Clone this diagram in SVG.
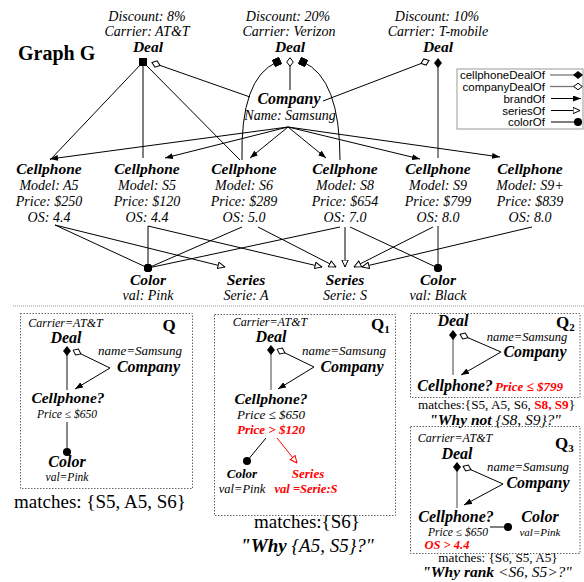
<svg xmlns="http://www.w3.org/2000/svg" width="584" height="582" viewBox="0 0 584 582">
<style>
text{font-family:"Liberation Serif","Times New Roman",serif;fill:#000}
.c{text-anchor:middle}
.at{font-style:italic;font-size:14px}
.nm{font-style:italic;font-weight:bold;font-size:15.5px}
.qa{font-style:italic;font-size:12px}
.qn{font-style:italic;font-weight:bold;font-size:16px}
.red{fill:#f00}
.lg{font-family:"Liberation Sans",Arial,sans-serif;font-size:11.5px;text-anchor:end}
.ln{stroke:#000;stroke-width:1;fill:none}
.gr{stroke:#888;stroke-width:2;fill:none}
.rl{stroke:#f00;stroke-width:1;fill:none}
.box{fill:none;stroke:#666;stroke-width:1;stroke-dasharray:1.5 1.5}
</style>
<defs>
<marker id="dF" markerUnits="userSpaceOnUse" viewBox="0 0 10 8" markerWidth="10" markerHeight="8" refX="5" refY="4" orient="auto"><path d="M0,4 L5,0 L10,4 L5,8 z" fill="#000"/></marker>
<marker id="dO" markerUnits="userSpaceOnUse" viewBox="0 0 10 8" markerWidth="10" markerHeight="8" refX="5" refY="4" orient="auto"><path d="M0.7,4 L5,0.7 L9.3,4 L5,7.3 z" fill="#fff" stroke="#000" stroke-width="1"/></marker>
<marker id="sq0" markerUnits="userSpaceOnUse" viewBox="0 0 8 8" markerWidth="8" markerHeight="8" refX="4" refY="4" orient="0"><rect x="0" y="0" width="8" height="8" fill="#000"/></marker>
<marker id="sqA" markerUnits="userSpaceOnUse" viewBox="0 0 8 8" markerWidth="8" markerHeight="8" refX="4" refY="4" orient="auto"><rect x="0" y="0" width="8" height="8" fill="#000"/></marker>
<marker id="aF" markerUnits="userSpaceOnUse" viewBox="0 0 8 6" markerWidth="8" markerHeight="6" refX="8" refY="3" orient="auto"><path d="M0,0 L8,3 L0,6 z" fill="#000"/></marker>
<marker id="tO" markerUnits="userSpaceOnUse" viewBox="0 0 8 8" markerWidth="8" markerHeight="8" refX="7.5" refY="4" orient="auto"><path d="M0.5,0.8 L7.5,4 L0.5,7.2 z" fill="#fff" stroke="#000" stroke-width="1"/></marker>
<marker id="tR" markerUnits="userSpaceOnUse" viewBox="0 0 8 8" markerWidth="8" markerHeight="8" refX="7.5" refY="4" orient="auto"><path d="M0.5,0.8 L7.5,4 L0.5,7.2 z" fill="#fff" stroke="#f00" stroke-width="1"/></marker>
<marker id="dot" markerUnits="userSpaceOnUse" viewBox="0 0 9 9" markerWidth="9" markerHeight="9" refX="4.5" refY="4.5" orient="0"><circle cx="4.5" cy="4.5" r="4" fill="#000"/></marker>
</defs>

<text x="18" y="60" style="font-weight:bold;font-size:20px">Graph G</text>

<g id="connectors">
  <line class="ln" x1="143" y1="62" x2="50" y2="160" marker-start="url(#sq0)"/>
  <line class="ln" x1="143" y1="62" x2="143" y2="158" marker-start="url(#sq0)"/>
  <line class="ln" x1="143" y1="62" x2="240" y2="160" marker-start="url(#sq0)"/>
  <line class="ln" x1="156" y1="64" x2="250" y2="97" marker-start="url(#dO)"/>
  <path class="ln" d="M277,62 Q240,78 242,160" marker-start="url(#sqA)"/>
  <path class="ln" d="M303,62 Q340,78 340,160" marker-start="url(#sqA)"/>
  <line class="ln" x1="290" y1="62" x2="290" y2="90" marker-start="url(#dO)"/>
  <line class="ln" x1="425" y1="62" x2="323" y2="101" marker-start="url(#dO)"/>
  <line class="gr" x1="438" y1="63" x2="438" y2="158" marker-start="url(#dF)"/>
  <line class="ln" x1="288" y1="127" x2="50" y2="159" marker-end="url(#aF)"/>
  <line class="ln" x1="288" y1="127" x2="165" y2="158" marker-end="url(#aF)"/>
  <line class="ln" x1="288" y1="127" x2="250" y2="158" marker-end="url(#aF)"/>
  <line class="ln" x1="288" y1="127" x2="326" y2="158" marker-end="url(#aF)"/>
  <line class="ln" x1="288" y1="127" x2="420" y2="159" marker-end="url(#aF)"/>
  <line class="ln" x1="288" y1="127" x2="500" y2="157" marker-end="url(#aF)"/>
  <line class="ln" x1="55" y1="225" x2="148" y2="268" marker-end="url(#dot)"/>
  <line class="ln" x1="55" y1="225" x2="225" y2="267" marker-end="url(#tO)"/>
  <line class="ln" x1="148" y1="226" x2="148" y2="268" marker-end="url(#dot)"/>
  <line class="ln" x1="148" y1="226" x2="322" y2="267" marker-end="url(#tO)"/>
  <line class="ln" x1="242" y1="227" x2="148" y2="268" marker-end="url(#dot)"/>
  <line class="ln" x1="258" y1="227" x2="336" y2="267" marker-end="url(#tO)"/>
  <line class="ln" x1="340" y1="227" x2="148" y2="268" marker-end="url(#dot)"/>
  <line class="ln" x1="345" y1="227" x2="345" y2="267" marker-end="url(#tO)"/>
  <line class="ln" x1="350" y1="227" x2="438" y2="268" marker-end="url(#dot)"/>
  <line class="gr" x1="438" y1="226" x2="438" y2="268" marker-end="url(#dot)"/>
  <line class="ln" x1="433" y1="227" x2="354" y2="267" marker-end="url(#tO)"/>
  <line class="ln" x1="532" y1="227" x2="362" y2="267" marker-end="url(#tO)"/>
</g>

<g id="deal1">
  <text class="at c" x="147" y="21">Discount: 8%</text>
  <text class="at c" x="147" y="36">Carrier: AT&amp;T</text>
  <text class="nm c" x="148" y="52">Deal</text>
</g>
<g id="deal2">
  <text class="at c" x="288" y="21">Discount: 20%</text>
  <text class="at c" x="289" y="36">Carrier: Verizon</text>
  <text class="nm c" x="290" y="52">Deal</text>
</g>
<g id="deal3">
  <text class="at c" x="437" y="21">Discount: 10%</text>
  <text class="at c" x="438" y="36">Carrier: T-mobile</text>
  <text class="nm c" x="438" y="52">Deal</text>
</g>
<g id="company">
  <text class="nm c" x="289" y="104" style="font-size:16px">Company</text>
  <text class="at c" x="290" y="120">Name: Samsung</text>
</g>

<g id="legend">
  <rect x="457" y="69" width="126" height="60" fill="#fff" stroke="#999" stroke-width="1"/>
  <text class="lg" x="545" y="79">cellphoneDealOf</text>
  <text class="lg" x="545" y="90.5">companyDealOf</text>
  <text class="lg" x="545" y="102.5">brandOf</text>
  <text class="lg" x="545" y="114.5">seriesOf</text>
  <text class="lg" x="545" y="126">colorOf</text>
  <line x1="550" y1="75" x2="578" y2="75" stroke="#777" stroke-width="1.3" marker-end="url(#dF)"/>
  <line x1="550" y1="86.5" x2="578" y2="86.5" stroke="#777" stroke-width="1.3" marker-end="url(#dO)"/>
  <line x1="551" y1="98.5" x2="581" y2="98.5" stroke="#000" stroke-width="1" marker-end="url(#aF)"/>
  <line x1="551" y1="110.5" x2="580" y2="110.5" stroke="#000" stroke-width="1" marker-end="url(#tO)"/>
  <line x1="551" y1="122" x2="578" y2="122" stroke="#000" stroke-width="1" marker-end="url(#dot)"/>
</g>

<g id="cell-a5">
  <text class="nm c" x="49" y="174">Cellphone</text>
  <text class="at c" x="49" y="190">Model: A5</text>
  <text class="at c" x="49" y="206">Price: $250</text>
  <text class="at c" x="49" y="222">OS: 4.4</text>
</g>
<g id="cell-s5">
  <text class="nm c" x="147" y="174">Cellphone</text>
  <text class="at c" x="147" y="190">Model: S5</text>
  <text class="at c" x="147" y="206">Price: $120</text>
  <text class="at c" x="147" y="222">OS: 4.4</text>
</g>
<g id="cell-s6">
  <text class="nm c" x="244" y="174">Cellphone</text>
  <text class="at c" x="244" y="190">Model: S6</text>
  <text class="at c" x="244" y="206">Price: $289</text>
  <text class="at c" x="244" y="222">OS: 5.0</text>
</g>
<g id="cell-s8">
  <text class="nm c" x="345" y="174">Cellphone</text>
  <text class="at c" x="345" y="190">Model: S8</text>
  <text class="at c" x="345" y="206">Price: $654</text>
  <text class="at c" x="345" y="222">OS: 7.0</text>
</g>
<g id="cell-s9">
  <text class="nm c" x="438" y="174">Cellphone</text>
  <text class="at c" x="438" y="190">Model: S9</text>
  <text class="at c" x="438" y="206">Price: $799</text>
  <text class="at c" x="438" y="222">OS: 8.0</text>
</g>
<g id="cell-s9plus">
  <text class="nm c" x="530" y="174">Cellphone</text>
  <text class="at c" x="530" y="190">Model: S9+</text>
  <text class="at c" x="530" y="206">Price: $839</text>
  <text class="at c" x="530" y="222">OS: 8.0</text>
</g>
<g id="color-pink">
  <text class="nm c" x="148" y="285">Color</text>
  <text class="at c" x="148" y="300">val: Pink</text>
</g>
<g id="series-a">
  <text class="nm c" x="246" y="285">Series</text>
  <text class="at c" x="246" y="300">Serie: A</text>
</g>
<g id="series-s">
  <text class="nm c" x="345" y="285">Series</text>
  <text class="at c" x="345" y="300">Serie: S</text>
</g>
<g id="color-black">
  <text class="nm c" x="438" y="285">Color</text>
  <text class="at c" x="438" y="300">val: Black</text>
</g>

<line x1="13" y1="306" x2="584" y2="306" stroke="#999" stroke-width="1" stroke-dasharray="1 1"/>

<g id="q">
  <rect class="box" x="20.5" y="313.5" width="172" height="175"/>
  <text x="169" y="331" class="c" style="font-weight:bold;font-size:17px">Q</text>
  <text class="qa c" x="65.5" y="327">Carrier=AT&amp;T</text>
  <text class="qn c" x="66" y="343">Deal</text>
  <text class="qa c" x="140" y="355" style="font-size:13px">name=Samsung</text>
  <text class="qn c" x="148.5" y="372">Company</text>
  <text class="qn c" x="68" y="403" style="font-size:15.5px">Cellphone?</text>
  <text class="qa c" x="67" y="418" style="font-size:11.5px">Price ≤ $650</text>
  <text class="qn c" x="67" y="467">Color</text>
  <text class="qa c" x="67" y="481" style="font-size:11.5px">val=Pink</text>
  <line class="gr" x1="67" y1="351" x2="67" y2="390" marker-start="url(#dF)"/>
  <line class="ln" x1="77" y1="352" x2="110" y2="368" marker-start="url(#dO)"/>
  <line class="ln" x1="110" y1="368" x2="75" y2="389" marker-end="url(#aF)"/>
  <line class="gr" x1="67" y1="422" x2="67" y2="452" marker-end="url(#dot)"/>
  <text class="c" x="100" y="508" style="font-size:19px">matches: {S5, A5, S6}</text>
</g>

<g id="q1">
  <rect class="box" x="214.5" y="314.5" width="181" height="201"/>
  <text x="371" y="330" style="font-weight:bold;font-size:17px">Q<tspan dy="3" style="font-size:11px">1</tspan></text>
  <text class="qa c" x="270" y="326">Carrier=AT&amp;T</text>
  <text class="qn c" x="271" y="342">Deal</text>
  <text class="qa c" x="344" y="355" style="font-size:13px">name=Samsung</text>
  <text class="qn c" x="352" y="372">Company</text>
  <text class="qn c" x="271" y="404" style="font-size:15.5px">Cellphone?</text>
  <text class="qa c" x="271" y="419" style="font-size:13px">Price ≤ $650</text>
  <text class="qn c red" x="271" y="434" style="font-size:13px">Price &gt; $120</text>
  <text class="qn c" x="242" y="478" style="font-size:13px">Color</text>
  <text class="qa c" x="242" y="493" style="font-size:12.5px">val=Pink</text>
  <text class="qn c red" x="308" y="478" style="font-size:13px">Series</text>
  <text class="qn c red" x="306" y="493" style="font-size:12.5px">val =Serie:S</text>
  <line x1="271" y1="350" x2="271" y2="390" stroke="#444" stroke-width="1" marker-start="url(#dF)"/>
  <line class="ln" x1="281" y1="351" x2="314" y2="367" marker-start="url(#dO)"/>
  <line class="ln" x1="314" y1="367" x2="278" y2="389" marker-end="url(#aF)"/>
  <line class="ln" x1="266" y1="438" x2="247" y2="461" marker-end="url(#dot)"/>
  <line class="rl" x1="277" y1="438" x2="297" y2="463" marker-end="url(#tR)"/>
  <text class="c" x="307" y="528" style="font-size:19px">matches:{S6}</text>
  <text class="c" x="307" y="552" style="font-size:19px"><tspan style="font-weight:bold;font-style:italic">"Why </tspan><tspan style="font-style:italic">{A5, S5}?"</tspan></text>
</g>

<g id="q2">
  <rect class="box" x="410.5" y="313.5" width="169.5" height="84"/>
  <text x="556" y="328" style="font-weight:bold;font-size:17px">Q<tspan dy="3" style="font-size:11px">2</tspan></text>
  <text class="qn c" x="453" y="326">Deal</text>
  <text class="qa c" x="527" y="341" style="font-size:12.5px">name=Samsung</text>
  <text class="qn c" x="535" y="357">Company</text>
  <text class="qn c" x="455" y="391">Cellphone?</text>
  <text class="qn c red" x="529" y="391" style="font-size:13px">Price ≤ $799</text>
  <line x1="453" y1="335" x2="453" y2="375" stroke="#444" stroke-width="1" marker-start="url(#dF)"/>
  <line class="ln" x1="464" y1="336" x2="501" y2="352" marker-start="url(#dO)"/>
  <line class="ln" x1="501" y1="352" x2="461" y2="375" marker-end="url(#aF)"/>
  <text class="c" x="496.5" y="408.5" style="font-size:13.2px">matches:{S5, A5, S6, <tspan class="red" style="font-weight:bold">S8, S9</tspan>}</text>
  <text class="c" x="495" y="425" style="font-size:15.5px"><tspan style="font-weight:bold;font-style:italic">"Why not </tspan><tspan style="font-style:italic">{S8, S9}?"</tspan></text>
</g>

<g id="q3">
  <rect class="box" x="410.5" y="426.5" width="169.5" height="127"/>
  <text x="555" y="449" style="font-weight:bold;font-size:17px">Q<tspan dy="3" style="font-size:11px">3</tspan></text>
  <text class="qa c" x="455" y="442">Carrier=AT&amp;T</text>
  <text class="qn c" x="457" y="459">Deal</text>
  <text class="qa c" x="528" y="471" style="font-size:12.7px">name=Samsung</text>
  <text class="qn c" x="538" y="488">Company</text>
  <text class="qn c" x="456" y="522">Cellphone?</text>
  <text class="qa c" x="458" y="536" style="font-size:11.5px">Price ≤ $650</text>
  <text class="qn c red" x="447" y="549" style="font-size:12.5px">OS &gt; 4.4</text>
  <text class="qn c" x="540" y="522">Color</text>
  <text class="qa c" x="540" y="536" style="font-size:11px">val=Pink</text>
  <line x1="457" y1="467" x2="457" y2="508" stroke="#444" stroke-width="1" marker-start="url(#dF)"/>
  <line class="ln" x1="467" y1="468" x2="503" y2="484" marker-start="url(#dO)"/>
  <line class="ln" x1="503" y1="484" x2="464" y2="505" marker-end="url(#aF)"/>
  <line class="ln" x1="490" y1="527" x2="508" y2="527" marker-end="url(#dot)"/>
  <text class="c" x="498" y="562" style="font-size:13.2px">matches: {S6, S5, A5}</text>
  <text class="c" x="497" y="577" style="font-size:15.5px"><tspan style="font-weight:bold;font-style:italic">"Why rank </tspan><tspan style="font-style:italic">&lt;S6, S5&gt;?"</tspan></text>
</g>
</svg>
